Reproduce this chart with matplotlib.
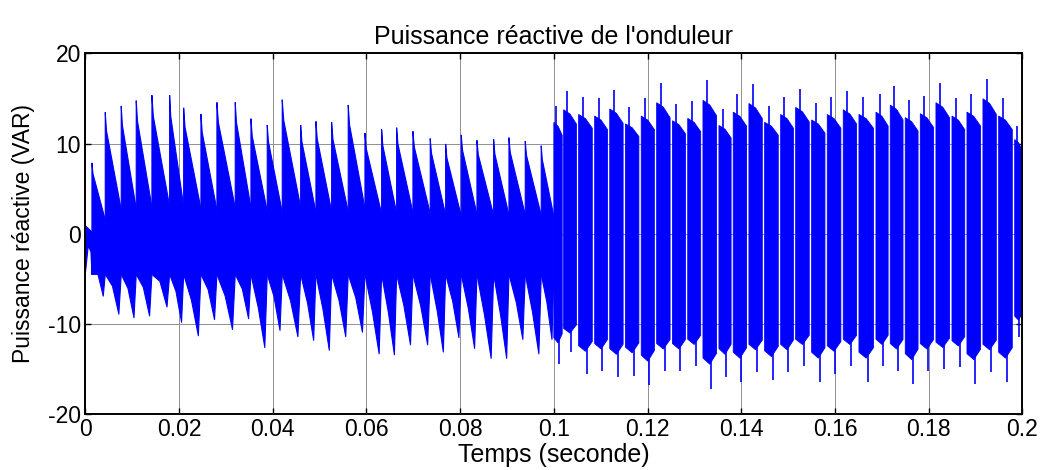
import numpy as np
import matplotlib.pyplot as plt

plt.rcParams['font.family'] = ['Liberation Sans', 'DejaVu Sans']
plt.rcParams['axes.unicode_minus'] = False

# premiere moitie : debut de chaque impulsion (s), crete haute, crete basse (VAR)
t_imp = [0.0, 0.00143, 0.00427, 0.00768, 0.01088, 0.01423, 0.01801, 0.0210,
         0.02469, 0.02810, 0.03201, 0.03536, 0.03884, 0.04204, 0.04597,
         0.04923, 0.05258, 0.05612, 0.05969, 0.06325, 0.06645, 0.06993,
         0.07362, 0.07691, 0.08024, 0.08359, 0.08715, 0.09042, 0.09390,
         0.09731]
haut_imp = [1.0, 7.8, 13.4, 14.1, 14.7, 15.3, 15.3, 13.9, 13.2, 14.5, 14.5,
            12.7, 12.0, 14.8, 12.0, 12.4, 12.3, 14.2, 11.1, 11.5, 11.7, 11.3,
            10.5, 9.9, 10.9, 10.3, 10.4, 10.6, 10.2, 9.7]
bas_imp = [-2.0, -6.9, -8.9, -9.3, -9.1, -8.1, -9.8, -11.3, -9.5, -10.6, -9.4,
           -12.6, -10.7, -11.4, -11.8, -12.9, -11.4, -10.9, -13.3, -13.4,
           -12.3, -12.3, -13.1, -11.5, -12.7, -13.8, -13.8, -11.7, -13.3, -11.7]

# deuxieme moitie (apres 0.1 s) : blocs
t_bloc = [0.1000, 0.10209, 0.10529, 0.10871, 0.11193, 0.11528, 0.11865,
          0.12194, 0.12531, 0.12857, 0.13182, 0.13523, 0.13828, 0.14163,
          0.14498, 0.14840, 0.15160, 0.15501, 0.15835, 0.16176, 0.16511,
          0.16874, 0.17179, 0.17499, 0.17820, 0.18154, 0.18496, 0.18816,
          0.19157, 0.19492, 0.19834]
haut_bloc = [14.2, 15.8, 15.2, 15.0, 15.9, 14.0, 15.0, 16.7, 14.4, 14.7, 17.0,
             13.8, 15.5, 16.6, 14.2, 15.2, 16.1, 14.5, 15.2, 15.8, 15.2, 15.5,
             16.4, 14.8, 15.3, 16.7, 15.0, 15.5, 17.2, 15.0, 12.0]
bas_bloc = [-14.4, -13.1, -15.5, -15.2, -15.9, -15.7, -16.8, -15.2, -15.2,
            -14.6, -17.2, -15.9, -16.4, -15.3, -16.2, -15.3, -14.6, -16.4,
            -15.5, -14.6, -16.4, -14.6, -15.2, -16.6, -15.2, -15.0, -14.8,
            -16.6, -15.3, -16.4, -11.4]
t_fin = 0.2

BLEU = '#0000ff'

fig = plt.figure(figsize=(10.46, 4.70), dpi=100)
ax = fig.add_axes([0.0815, 0.1185, 0.896, 0.768])

# impulsions en dents de scie
bornes = t_imp + [t_bloc[0]]
for i in range(len(t_imp)):
    t0, t1 = bornes[i], bornes[i + 1]
    p = t1 - t0
    h, b = haut_imp[i], bas_imp[i]
    xs = [t0, t0 + 0.08 * p, t1, t1, t0 + 0.85 * p, t0 + 0.45 * p, t0]
    ys = [h, 0.85 * h, 0.2 * h, -4.5, b, 0.65 * b, -4.5]
    ax.fill(xs, ys, color=BLEU, lw=0)
    ax.plot(xs + [xs[0]], ys + [ys[0]], color=BLEU, lw=0.8)

# blocs pleins
bornes = t_bloc + [t_fin]
for i in range(len(t_bloc)):
    t0, t1 = bornes[i], bornes[i + 1]
    w = t1 - t0
    e = t1 - 0.15 * w if i < len(t_bloc) - 1 else t1
    h, b = haut_bloc[i], bas_bloc[i]
    xs = [t0, t0, t0 + 0.5 * (e - t0), e, e, t0 + 0.5 * (e - t0)]
    ys = [0.8 * b, 0.87 * h, 0.84 * h, 0.77 * h, 0.77 * b, 0.84 * b]
    ax.fill(xs, ys, color=BLEU, lw=0.6)
    ax.vlines(t0 + 0.3 * (e - t0), 0.8 * h, h, color=BLEU, lw=1.2)
    ax.vlines(t0 + 0.6 * (e - t0), b, 0.8 * b, color=BLEU, lw=1.2)

ax.set_xlim(0, 0.2)
ax.set_ylim(-20, 20)
ax.set_xticks(np.arange(0, 0.201, 0.02))
ax.set_xticklabels(['0', '0.02', '0.04', '0.06', '0.08', '0.1', '0.12',
                    '0.14', '0.16', '0.18', '0.2'])
ax.set_yticks([-20, -10, 0, 10, 20])
ax.grid(True, color='#909090', linestyle='-', lw=0.7)
ax.set_axisbelow(True)
ax.tick_params(direction='in', top=True, right=True, labelsize=16.5,
               length=4, width=1, pad=3)
for s in ax.spines.values():
    s.set_linewidth(1.4)

ax.set_title("Puissance réactive de l'onduleur", fontsize=18, pad=7)
ax.set_xlabel('Temps (seconde)', fontsize=18, labelpad=1)
ax.set_ylabel('Puissance réactive (VAR)', fontsize=16.5, labelpad=9)

fig.savefig('out.png', dpi=100)
